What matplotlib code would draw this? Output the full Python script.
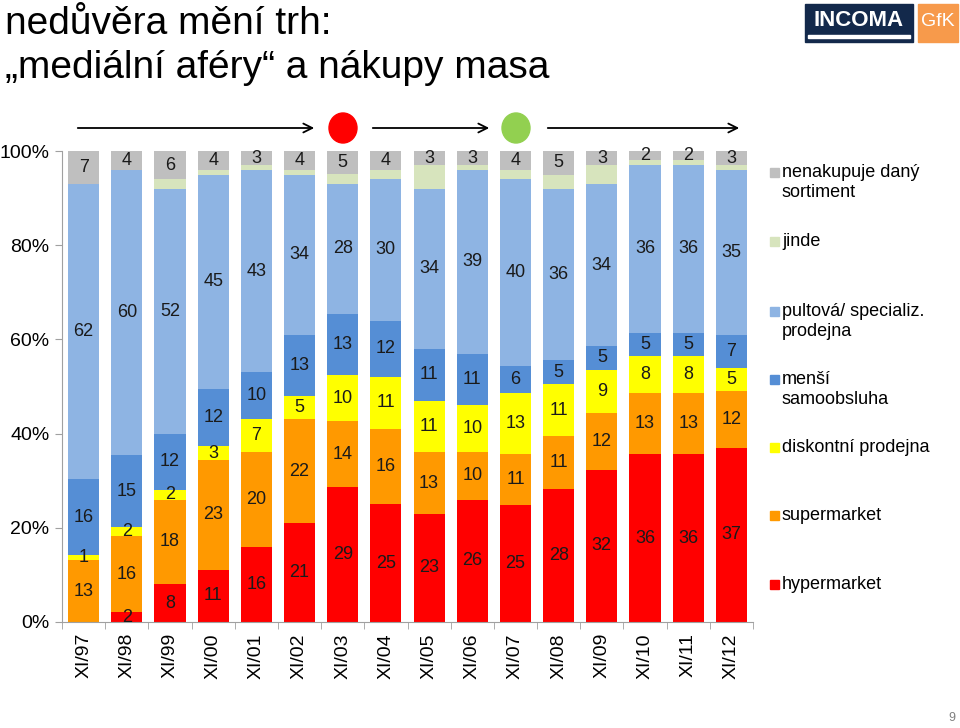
import matplotlib
matplotlib.use("Agg")
import matplotlib.pyplot as plt
from matplotlib.patches import Rectangle, Ellipse
import numpy as np

plt.rcParams['font.family'] = ['Liberation Sans', 'DejaVu Sans']

years = ['XI/97', 'XI/98', 'XI/99', 'XI/00', 'XI/01', 'XI/02', 'XI/03', 'XI/04',
         'XI/05', 'XI/06', 'XI/07', 'XI/08', 'XI/09', 'XI/10', 'XI/11', 'XI/12']

hyper = [0, 2, 8, 11, 16, 21, 29, 25, 23, 26, 25, 28, 32, 36, 36, 37]
super_ = [13, 16, 18, 23, 20, 22, 14, 16, 13, 10, 11, 11, 12, 13, 13, 12]
diskont = [1, 2, 2, 3, 7, 5, 10, 11, 11, 10, 13, 11, 9, 8, 8, 5]
mensi = [16, 15, 12, 12, 10, 13, 13, 12, 11, 11, 6, 5, 5, 5, 5, 7]
pultova = [62, 60, 52, 45, 43, 34, 28, 30, 34, 39, 40, 36, 34, 36, 36, 35]
jinde = [0, 0, 2, 1, 1, 1, 2, 2, 5, 1, 2, 3, 4, 1, 1, 1]
nenakupuje = [7, 4, 6, 4, 3, 4, 5, 4, 3, 3, 4, 5, 3, 2, 2, 3]

series = [hyper, super_, diskont, mensi, pultova, jinde, nenakupuje]
names = ['hypermarket', 'supermarket', 'diskontní prodejna', 'menší\nsamoobsluha',
         'pultová/ specializ.\nprodejna', 'jinde', 'nenakupuje daný\nsortiment']
colors = ['#FF0000', '#FF9900', '#FFFF00', '#558ED5', '#8EB4E3', '#D7E4BD', '#BFBFBF']
show_label = [True, True, True, True, True, False, True]

data = np.array(series, dtype=float)
pct = data / data.sum(axis=0) * 100

fig = plt.figure(figsize=(9.6, 7.28), dpi=100)
ax = fig.add_axes([62 / 960, 1 - 622 / 728, 691 / 960, 471 / 728])

x = np.arange(len(years))
bottom = np.zeros(len(years))
for vals, raw, c, lab in zip(pct, data, colors, show_label):
    ax.bar(x, vals, bottom=bottom, width=0.72, color=c, edgecolor='none')
    if lab:
        for i in range(len(years)):
            if raw[i] > 0:
                ax.text(x[i], bottom[i] + vals[i] / 2, '%d' % raw[i],
                        ha='center', va='center', fontsize=13, color='#1a1a1a')
    bottom += vals

ax.set_xlim(-0.5, len(years) - 0.5)
ax.set_ylim(0, 100)
ax.set_yticks([0, 20, 40, 60, 80, 100])
ax.set_yticklabels(['0%', '20%', '40%', '60%', '80%', '100%'], fontsize=14)
ax.set_xticks(x)
ax.set_xticklabels(years, rotation=90, fontsize=14)
ax.set_xticks(np.arange(-0.5, len(years)), minor=True)
ax.tick_params(axis='x', which='major', length=0, pad=8)
ax.tick_params(axis='x', which='minor', length=5, color='#A0A0A0')
ax.tick_params(axis='y', length=5, color='#A0A0A0', pad=4)
for s in ['top', 'right']:
    ax.spines[s].set_visible(False)
ax.spines['left'].set_color('#A0A0A0')
ax.spines['bottom'].set_color('#A0A0A0')

# legend on the right
leg_y = [172, 241, 311, 379, 447, 515, 584]
for name, c, yy in zip(names[::-1], colors[::-1], leg_y):
    fig.patches.append(Rectangle(((770) / 960, 1 - (yy + 5) / 728), 9 / 960, 9 / 728,
                                 transform=fig.transFigure, color=c))
    fig.text(782 / 960, 1 - (yy - 8) / 728, name, fontsize=13, va='top', ha='left',
             linespacing=1.2)

# arrows and circles on top
arrow_y = 1 - 128 / 728
for x0, x1 in [(75, 317), (370, 492), (545, 742)]:
    fig.add_artist(matplotlib.patches.FancyArrowPatch(
        (x0 / 960, arrow_y), (x1 / 960, arrow_y), transform=fig.transFigure,
        arrowstyle='->', mutation_scale=16, color='black', lw=1.3))
fig.patches.append(Ellipse((343 / 960, arrow_y), 28 / 960, 30 / 728,
                           transform=fig.transFigure, color='#FF0000'))
fig.patches.append(Ellipse((516 / 960, arrow_y), 28 / 960, 30 / 728,
                           transform=fig.transFigure, color='#92D050'))

# title
fig.text(5 / 960, 1 - 6 / 728, 'nedůvěra mění trh:\n„mediální aféry“ a nákupy masa',
         fontsize=28, va='top', ha='left', linespacing=1.3)

# logo
fig.patches.append(Rectangle((805 / 960, 1 - 42 / 728), 108 / 960, 38 / 728,
                             transform=fig.transFigure, color='#13294B'))
fig.patches.append(Rectangle((808 / 960, 1 - 38 / 728), 102 / 960, 3 / 728,
                             transform=fig.transFigure, color='white'))
fig.patches.append(Rectangle((918 / 960, 1 - 42 / 728), 40 / 960, 38 / 728,
                             transform=fig.transFigure, color='#F79A4B'))
fig.text(859 / 960, 1 - 20 / 728, 'INCOMA', fontsize=16, fontweight='bold',
         color='white', ha='center', va='center')
fig.text(938 / 960, 1 - 21 / 728, 'GfK', fontsize=14, color='white',
         ha='center', va='center')

fig.text(955 / 960, 1 - 718 / 728, '9', fontsize=9, color='#808080',
         ha='right', va='center')

fig.savefig('out.png', dpi=100)
